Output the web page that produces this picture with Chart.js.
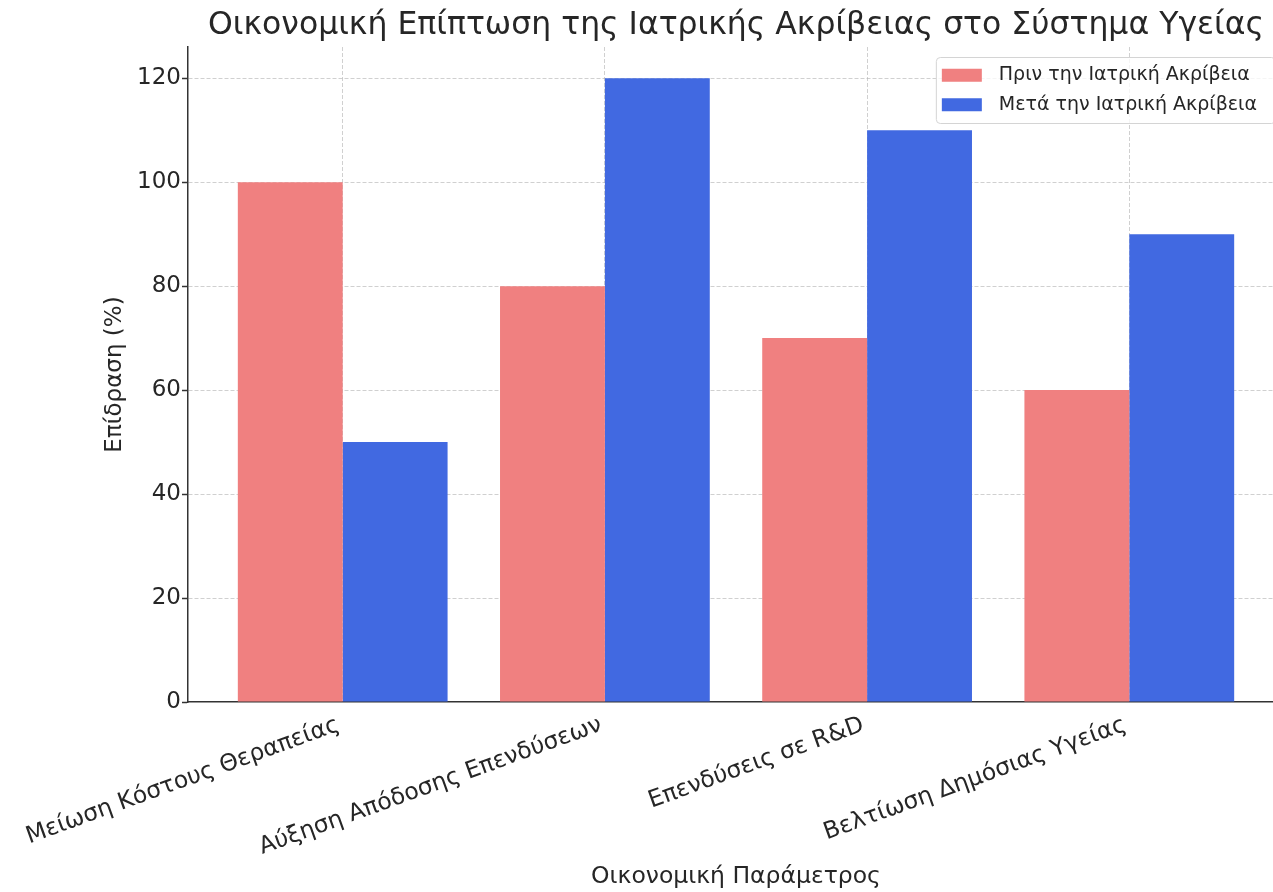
<!DOCTYPE html>
<html lang="el">
<head>
<meta charset="utf-8">
<title>Οικονομική Επίπτωση της Ιατρικής Ακρίβειας</title>
<script src="https://cdn.jsdelivr.net/npm/chart.js@4.4.1/dist/chart.umd.min.js"></script>
<style>
  html, body { margin: 0; padding: 0; background: #ffffff; overflow: hidden; }
  #wrap { position: relative; width: 1290px; height: 892px; }
  canvas { display: block; }
</style>
</head>
<body>
<div id="wrap"><canvas id="chart" width="1290" height="892"></canvas></div>
<script>
// Economic parameters and impact values (%)
const categories = [
  'Μείωση Κόστους Θεραπείας',
  'Αύξηση Απόδοσης Επενδύσεων',
  'Επενδύσεις σε R&D',
  'Βελτίωση Δημόσιας Υγείας'
];
const beforeValues = [100, 80, 70, 60];
const afterValues = [50, 120, 110, 90];
const seriesLabels = ['Πριν την Ιατρική Ακρίβεια', 'Μετά την Ιατρική Ακρίβεια'];
const yTicks = [0, 20, 40, 60, 80, 100, 120];

const FONT = "'DejaVu Sans', 'Noto Sans', sans-serif";
const TEXT = '#262626';
const GRID = 'rgba(176,176,176,0.6)';
const AXIS = '#333333';

// Boxed legend in the upper-right corner of the plot area
const cornerLegend = {
  id: 'cornerLegend',
  afterDraw(chart) {
    const { ctx, chartArea } = chart;
    const items = chart.data.datasets.map(d => ({ text: d.label, color: d.backgroundColor }));
    ctx.save();
    ctx.font = '19px ' + FONT;
    const textW = Math.max(...items.map(i => ctx.measureText(i.text).width));
    const padL = 6, padR = 18, swW = 40, swH = 13, gap = 17, rowH = 29.5, padY = 3.5;
    const w = padL + swW + gap + textW + padR;
    const h = padY * 2 + rowH * items.length;
    const right = chartArea.right - 9;
    const top = chartArea.top + 10;
    const left = right - w;
    ctx.beginPath();
    ctx.roundRect(left + 0.5, top + 0.5, w, h, 4);
    ctx.fillStyle = 'rgba(255,255,255,0.8)';
    ctx.fill();
    ctx.strokeStyle = '#d4d4d4';
    ctx.lineWidth = 1;
    ctx.stroke();
    items.forEach((it, i) => {
      const cy = top + padY + rowH * i + rowH / 2;
      ctx.fillStyle = it.color;
      ctx.fillRect(left + padL, cy - swH / 2, swW, swH);
      ctx.fillStyle = TEXT;
      ctx.textAlign = 'left';
      ctx.textBaseline = 'middle';
      ctx.fillText(it.text, left + padL + swW + gap, cy);
    });
    ctx.restore();
  }
};

new Chart(document.getElementById('chart'), {
  type: 'bar',
  data: {
    datasets: [
      {
        label: seriesLabels[0],
        data: beforeValues.map((v, i) => ({ x: i, y: v })),
        backgroundColor: '#F08080',
        borderWidth: 0
      },
      {
        label: seriesLabels[1],
        data: afterValues.map((v, i) => ({ x: i, y: v })),
        backgroundColor: '#4169E1',
        borderWidth: 0
      }
    ]
  },
  options: {
    responsive: false,
    maintainAspectRatio: false,
    animation: false,
    devicePixelRatio: 1,
    layout: { padding: { left: 0, right: 6, top: 0, bottom: 0 } },
    categoryPercentage: 0.8,
    barPercentage: 1.0,
    plugins: {
      legend: { display: false },
      tooltip: { enabled: false },
      title: {
        display: true,
        fullSize: false,
        text: 'Οικονομική Επίπτωση της Ιατρικής Ακρίβειας στο Σύστημα Υγείας',
        color: TEXT,
        font: { family: FONT, size: 31.5, weight: 'normal', lineHeight: 1.2 },
        padding: { top: 7, bottom: 2.2 }
      }
    },
    scales: {
      x: {
        type: 'linear',
        min: -0.59,
        max: 3.59,
        offset: false,
        z: 1,
        afterBuildTicks(scale) {
          scale.ticks = categories.map((c, i) => ({ value: i }));
        },
        afterFit(scale) { scale.height = 190; },
        grid: {
          offset: false,
          color: GRID,
          lineWidth: 1,
          drawTicks: true,
          tickLength: 6,
          tickColor: 'transparent'
        },
        border: { display: true, color: AXIS, width: 1.5, dash: [4, 2] },
        ticks: {
          autoSkip: false,
          minRotation: 20,
          maxRotation: 20,
          padding: 3,
          labelOffset: -4,
          color: TEXT,
          font: { family: FONT, size: 23.5 },
          callback: (v) => categories[v] ?? ''
        },
        title: {
          display: true,
          text: 'Οικονομική Παράμετρος',
          color: TEXT,
          font: { family: FONT, size: 23.5, lineHeight: 1.2 },
          padding: { top: 0, bottom: 1 }
        }
      },
      y: {
        min: 0,
        max: 126,
        z: 1,
        afterBuildTicks(scale) {
          scale.ticks = yTicks.map(v => ({ value: v }));
        },
        afterFit(scale) { scale.width = 188; },
        grid: {
          color: (c) => (c.tick && c.tick.value === 0 ? 'transparent' : GRID),
          lineWidth: 1,
          drawTicks: true,
          tickLength: 6,
          tickColor: AXIS,
          tickWidth: 1.5
        },
        border: { display: true, color: AXIS, width: 1.5, dash: [4, 2] },
        ticks: {
          padding: 1,
          color: TEXT,
          font: { family: FONT, size: 23 }
        },
        title: {
          display: true,
          text: 'Επίδραση (%)',
          color: TEXT,
          font: { family: FONT, size: 23, lineHeight: 1.2 },
          padding: { top: 101, bottom: 0 }
        }
      }
    }
  },
  plugins: [cornerLegend]
});
</script>
</body>
</html>
